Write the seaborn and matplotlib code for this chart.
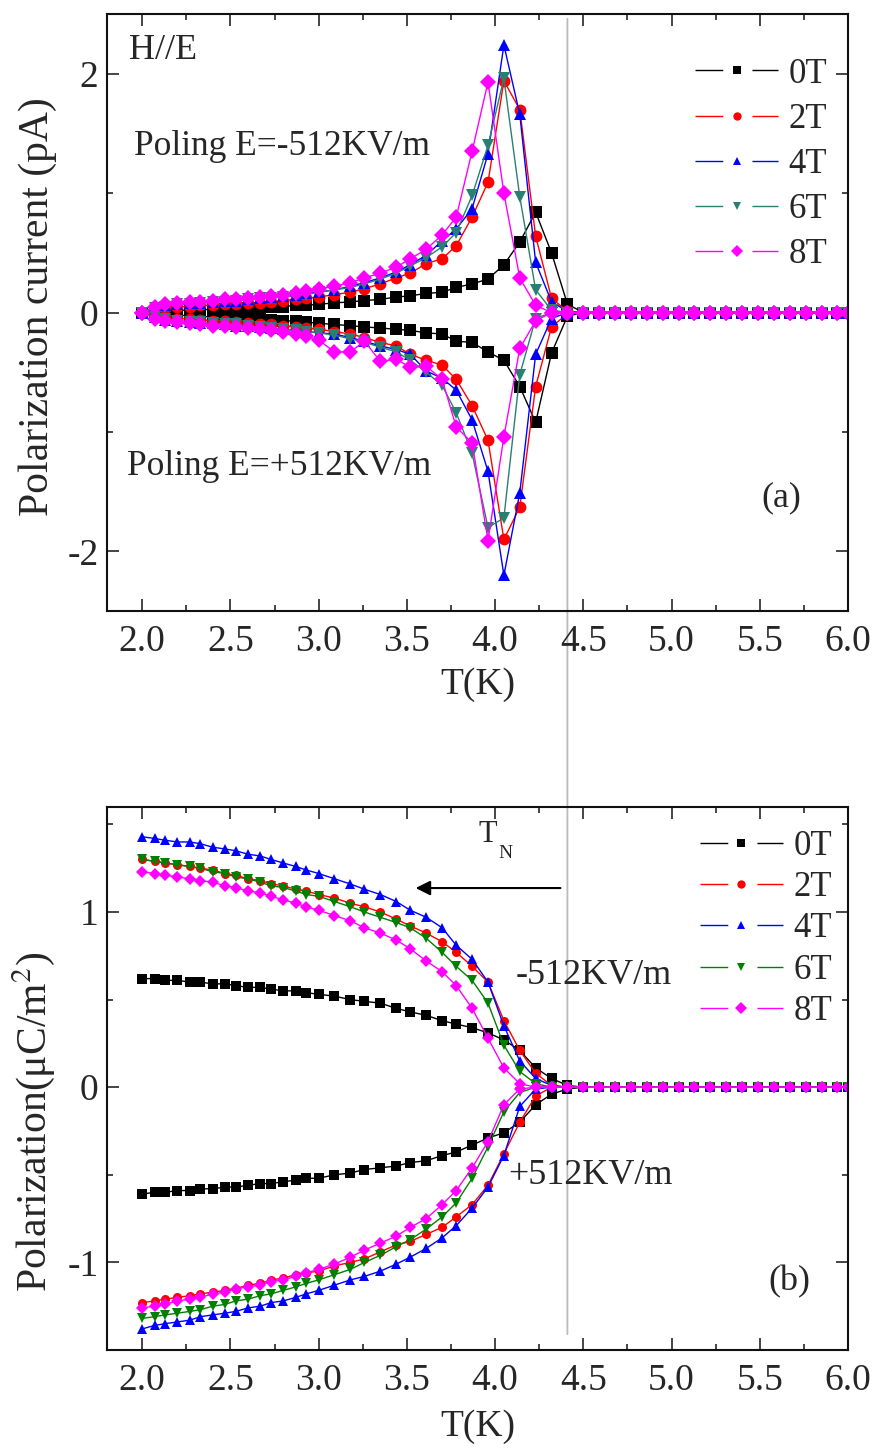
import matplotlib
matplotlib.use('Agg')
import matplotlib.pyplot as plt
import pandas as pd
import seaborn as sns
from matplotlib.lines import Line2D
from matplotlib.patches import ConnectionPatch
from matplotlib.ticker import MultipleLocator

sns.set_style('ticks')
plt.rcParams['font.family'] = ['Liberation Serif', 'DejaVu Serif']
plt.rcParams['mathtext.fontset'] = 'stix'
plt.rcParams['axes.unicode_minus'] = False

# temperature grid (K), shared by all curves
T = [2.00, 2.07, 2.13, 2.20, 2.27, 2.33, 2.40, 2.47, 2.53, 2.60, 2.67, 2.73, 2.80, 2.87, 2.93, 3.00,
     3.09, 3.18, 3.26, 3.35, 3.44, 3.52, 3.61, 3.70, 3.78, 3.87, 3.96, 4.05, 4.14, 4.23, 4.32, 4.41,
     4.50, 4.59, 4.68, 4.77, 4.86, 4.95, 5.04, 5.13, 5.22, 5.31, 5.40, 5.49, 5.58, 5.67, 5.76, 5.85, 5.94, 6.00]
# above T_N everything is flat at zero
flat = [0.00, 0.00, 0.00, 0.00, 0.00, 0.00, 0.00, 0.00, 0.00,
        0.00, 0.00, 0.00, 0.00, 0.00, 0.00, 0.00, 0.00, 0.00]

fields = ['0T', '2T', '4T', '6T', '8T']
TN = 4.41

# (a) pyroelectric current, pA -- poling E = -512 KV/m
cur_neg_pol = {
    '0T': [0.00, 0.01, 0.01, 0.02, 0.02, 0.02, 0.03, 0.03, 0.03, 0.04, 0.04, 0.05, 0.05, 0.06, 0.06, 0.07,
           0.08, 0.09, 0.10, 0.11, 0.13, 0.14, 0.16, 0.17, 0.21, 0.24, 0.28, 0.40, 0.59, 0.84, 0.50, 0.07],
    '2T': [0.00, 0.03, 0.04, 0.05, 0.05, 0.06, 0.06, 0.07, 0.07, 0.08, 0.08, 0.09, 0.10, 0.11, 0.12, 0.13,
           0.15, 0.17, 0.20, 0.24, 0.29, 0.33, 0.41, 0.45, 0.56, 0.80, 1.09, 1.94, 1.70, 0.64, 0.12, 0.01],
    '4T': [0.00, 0.04, 0.06, 0.07, 0.08, 0.08, 0.09, 0.10, 0.10, 0.11, 0.12, 0.13, 0.14, 0.15, 0.16, 0.17,
           0.19, 0.22, 0.25, 0.29, 0.34, 0.40, 0.48, 0.60, 0.70, 0.87, 1.33, 2.24, 1.66, 0.42, 0.09, 0.01],
    '6T': [0.00, 0.04, 0.05, 0.07, 0.07, 0.08, 0.09, 0.09, 0.10, 0.11, 0.12, 0.12, 0.13, 0.14, 0.15, 0.17,
           0.19, 0.21, 0.24, 0.28, 0.33, 0.39, 0.46, 0.55, 0.67, 0.98, 1.40, 1.96, 0.97, 0.19, 0.02, 0.00],
    '8T': [0.00, 0.05, 0.07, 0.08, 0.09, 0.09, 0.10, 0.11, 0.11, 0.12, 0.13, 0.14, 0.15, 0.16, 0.18, 0.20,
           0.22, 0.25, 0.29, 0.33, 0.38, 0.45, 0.53, 0.65, 0.80, 1.35, 1.93, 1.00, 0.29, 0.06, 0.00, 0.00],
}
# poling E = +512 KV/m
cur_pos_pol = {
    '0T': [0.00, -0.01, -0.02, -0.02, -0.03, -0.03, -0.04, -0.04, -0.05, -0.05, -0.06, -0.06, -0.07, -0.07, -0.08, -0.09,
           -0.10, -0.11, -0.12, -0.13, -0.14, -0.15, -0.17, -0.18, -0.24, -0.25, -0.33, -0.40, -0.62, -0.92, -0.34, -0.03],
    '2T': [0.00, -0.03, -0.04, -0.05, -0.05, -0.06, -0.07, -0.07, -0.08, -0.09, -0.10, -0.10, -0.11, -0.12, -0.13, -0.14,
           -0.16, -0.18, -0.21, -0.25, -0.28, -0.35, -0.40, -0.44, -0.56, -0.78, -1.07, -1.90, -1.63, -0.62, -0.12, -0.01],
    '4T': [0.00, -0.04, -0.06, -0.07, -0.08, -0.09, -0.09, -0.10, -0.11, -0.11, -0.12, -0.13, -0.14, -0.15, -0.16, -0.17,
           -0.18, -0.21, -0.24, -0.28, -0.31, -0.35, -0.49, -0.55, -0.65, -0.90, -1.33, -2.20, -1.51, -0.35, -0.05, 0.00],
    '6T': [0.00, -0.04, -0.05, -0.07, -0.08, -0.08, -0.09, -0.10, -0.10, -0.11, -0.12, -0.13, -0.14, -0.15, -0.16, -0.17,
           -0.19, -0.22, -0.25, -0.29, -0.33, -0.40, -0.50, -0.61, -0.84, -1.18, -1.80, -1.72, -0.52, -0.05, 0.00, 0.00],
    '8T': [0.00, -0.05, -0.07, -0.08, -0.09, -0.10, -0.11, -0.11, -0.12, -0.13, -0.14, -0.15, -0.16, -0.18, -0.20, -0.23,
           -0.33, -0.33, -0.24, -0.41, -0.39, -0.46, -0.45, -0.56, -0.96, -1.09, -1.91, -1.04, -0.30, -0.07, 0.00, 0.00],
}

# (b) polarization, uC/m^2 -- poling E = -512 KV/m
pol_neg_pol = {
    '0T': [0.62, 0.62, 0.61, 0.61, 0.60, 0.60, 0.59, 0.59, 0.58, 0.57, 0.57, 0.56, 0.55, 0.55, 0.54, 0.53,
           0.52, 0.50, 0.49, 0.48, 0.45, 0.43, 0.41, 0.38, 0.36, 0.34, 0.31, 0.27, 0.21, 0.11, 0.05, 0.01],
    '2T': [1.30, 1.29, 1.28, 1.27, 1.26, 1.25, 1.24, 1.22, 1.21, 1.19, 1.18, 1.16, 1.15, 1.13, 1.12, 1.10,
           1.08, 1.05, 1.03, 1.00, 0.96, 0.92, 0.88, 0.83, 0.77, 0.69, 0.60, 0.38, 0.21, 0.08, 0.01, 0.00],
    '4T': [1.43, 1.42, 1.41, 1.40, 1.40, 1.39, 1.37, 1.36, 1.35, 1.33, 1.32, 1.30, 1.28, 1.26, 1.24, 1.22,
           1.19, 1.16, 1.13, 1.10, 1.06, 1.01, 0.97, 0.91, 0.81, 0.73, 0.60, 0.35, 0.15, 0.05, 0.01, 0.00],
    '6T': [1.30, 1.29, 1.28, 1.27, 1.26, 1.25, 1.23, 1.22, 1.20, 1.19, 1.17, 1.15, 1.14, 1.12, 1.10, 1.09,
           1.06, 1.03, 1.00, 0.97, 0.94, 0.91, 0.85, 0.77, 0.69, 0.61, 0.48, 0.24, 0.09, 0.02, 0.00, 0.00],
    '8T': [1.23, 1.22, 1.21, 1.20, 1.19, 1.18, 1.17, 1.15, 1.14, 1.12, 1.11, 1.09, 1.07, 1.05, 1.03, 1.01,
           0.98, 0.95, 0.91, 0.88, 0.84, 0.79, 0.72, 0.66, 0.58, 0.45, 0.28, 0.11, 0.02, 0.00, 0.00, 0.00],
}
# poling E = +512 KV/m
pol_pos_pol = {
    '0T': [-0.61, -0.60, -0.60, -0.59, -0.59, -0.58, -0.58, -0.57, -0.57, -0.56, -0.55, -0.55, -0.54, -0.53, -0.52, -0.52,
           -0.50, -0.49, -0.47, -0.46, -0.45, -0.43, -0.42, -0.39, -0.37, -0.33, -0.29, -0.26, -0.20, -0.10, -0.04, -0.01],
    '2T': [-1.23, -1.22, -1.21, -1.20, -1.19, -1.18, -1.17, -1.16, -1.15, -1.13, -1.12, -1.10, -1.09, -1.07, -1.06, -1.05,
           -1.02, -1.00, -0.98, -0.94, -0.90, -0.88, -0.84, -0.80, -0.74, -0.67, -0.56, -0.38, -0.20, -0.05, 0.00, 0.00],
    '4T': [-1.38, -1.36, -1.35, -1.34, -1.33, -1.31, -1.30, -1.29, -1.28, -1.26, -1.25, -1.23, -1.22, -1.20, -1.18, -1.16,
           -1.13, -1.10, -1.08, -1.05, -1.01, -0.97, -0.92, -0.86, -0.79, -0.69, -0.57, -0.39, -0.11, -0.01, 0.00, 0.00],
    '6T': [-1.32, -1.31, -1.30, -1.29, -1.28, -1.27, -1.25, -1.24, -1.22, -1.21, -1.19, -1.18, -1.16, -1.14, -1.12, -1.10,
           -1.07, -1.04, -1.00, -0.96, -0.91, -0.87, -0.81, -0.74, -0.66, -0.52, -0.34, -0.14, -0.03, 0.00, 0.00, 0.00],
    '8T': [-1.26, -1.25, -1.24, -1.22, -1.21, -1.20, -1.18, -1.17, -1.15, -1.14, -1.13, -1.11, -1.10, -1.08, -1.06, -1.04,
           -1.01, -0.97, -0.93, -0.89, -0.85, -0.80, -0.75, -0.67, -0.59, -0.46, -0.31, -0.10, -0.01, 0.00, 0.00, 0.00],
}

colors_a = {'0T': '#000000', '2T': '#FF0000', '4T': '#0000FF', '6T': '#2A8070', '8T': '#FF00FF'}
colors_b = {'0T': '#000000', '2T': '#FF0000', '4T': '#0000FF', '6T': '#008000', '8T': '#FF00FF'}
marks = {'0T': 's', '2T': 'o', '4T': '^', '6T': 'v', '8T': 'D'}


def long_table(neg, pos):
    rows = []
    for f in fields:
        for branch, d in (('neg', neg), ('pos', pos)):
            vals = d[f] + flat
            for t, v in zip(T, vals):
                rows.append({'T': t, 'val': v, 'field': f, 'branch': f + branch})
    return pd.DataFrame(rows)


df_a = long_table(cur_neg_pol, cur_pos_pol)
df_b = long_table(pol_neg_pol, pol_pos_pol)

fig = plt.figure(figsize=(8.76, 14.55), dpi=100)
fig.patch.set_facecolor('white')
ax1 = fig.add_axes([0.122, 0.580, 0.846, 0.4104])
ax2 = fig.add_axes([0.122, 0.0722, 0.846, 0.3732])

fs = 26

for ax, df, pal, ms in ((ax1, df_a, colors_a, 8.5), (ax2, df_b, colors_b, 6.5)):
    ax.set_facecolor('none')
    sns.lineplot(data=df, x='T', y='val', hue='field', style='field', units='branch',
                 estimator=None, sort=False, palette=pal, markers=marks, dashes=False,
                 hue_order=fields, style_order=fields,
                 markersize=ms, markeredgewidth=0, linewidth=1.0, legend=False, ax=ax)
    ax.set_xlim(1.8, 6.0)
    ax.xaxis.set_major_locator(MultipleLocator(0.5))
    ax.xaxis.set_minor_locator(MultipleLocator(0.25))
    ax.xaxis.set_major_formatter('{x:.1f}')
    ax.tick_params(which='both', direction='in', top=True, right=True, width=1.2, labelsize=27)
    ax.tick_params(which='major', length=8.5)
    ax.tick_params(which='minor', length=4.5)
    ax.tick_params(axis='x', pad=10)
    ax.tick_params(axis='y', pad=6)
    for sp in ax.spines.values():
        sp.set_linewidth(1.5)
        sp.set_color('#111111')
    ax.set_xlabel('T(K)', fontsize=27)
    ax.xaxis.set_label_coords(0.5, -0.095)

    # Origin-style legend keys: line broken around the symbol
    handles = [(Line2D([], [], color=pal[f], lw=1.0, linestyle=(0, (20, 21, 20, 100))),
                Line2D([], [], color=pal[f], marker=marks[f], markersize=6, markeredgewidth=0, lw=0))
               for f in fields]
    ax.legend(handles, fields, frameon=False, fontsize=25, handlelength=2.4, handletextpad=0.3,
              labelspacing=0.35 if ax is ax1 else 0.24, borderpad=0, borderaxespad=0, loc='upper left',
              bbox_to_anchor=(0.7935, 0.927) if ax is ax1 else (0.80, 0.958))

ax1.set_ylim(-2.5, 2.5)
ax1.yaxis.set_major_locator(MultipleLocator(2))
ax1.yaxis.set_minor_locator(MultipleLocator(1))
ax1.set_ylabel('Polarization current (pA)', fontsize=30)
ax1.yaxis.set_label_coords(-0.067, 0.51)

ax2.set_ylim(-1.5, 1.6)
ax2.yaxis.set_major_locator(MultipleLocator(1))
ax2.yaxis.set_minor_locator(MultipleLocator(0.5))
ax2.set_ylabel('Polarization(\u03bcC/m$^{2}$)', fontsize=30)
ax2.yaxis.set_label_coords(-0.067, 0.42)
ax2.xaxis.set_label_coords(0.5, -0.11)

# annotations, panel (a)
ax1.text(1.926, 2.19, 'H//E', fontsize=fs, va='center', ha='left')
ax1.text(1.955, 1.39, 'Poling E=-512KV/m', fontsize=25.5, va='center', ha='left')
ax1.text(1.915, -1.29, 'Poling E=+512KV/m', fontsize=25.5, va='center', ha='left')
ax1.text(5.625, -1.55, '(a)', fontsize=fs, va='center', ha='center')

# annotations, panel (b)
ax2.text(3.96, 1.44, 'T', fontsize=22, va='center', ha='center')
ax2.text(4.057, 1.337, 'N', fontsize=14, va='center', ha='center')
ax2.annotate('', xy=(3.534, 1.137), xytext=(4.386, 1.137),
             arrowprops=dict(arrowstyle='-|>', color='k', lw=1.5, mutation_scale=22))
ax2.text(4.114, 0.64, '-512KV/m', fontsize=fs, va='center', ha='left')
ax2.text(4.074, -0.503, '+512KV/m', fontsize=fs, va='center', ha='left')
ax2.text(5.67, -1.11, '(b)', fontsize=fs, va='center', ha='center')

# gray marker line at T_N running through both panels, behind the curves
con = ConnectionPatch(xyA=(TN, 2.46), coordsA=ax1.transData, xyB=(TN, -1.41), coordsB=ax2.transData,
                      color='#BBBBBB', lw=1.3, zorder=-1)
fig.add_artist(con)

fig.savefig('out.png', dpi=100, facecolor='white')
